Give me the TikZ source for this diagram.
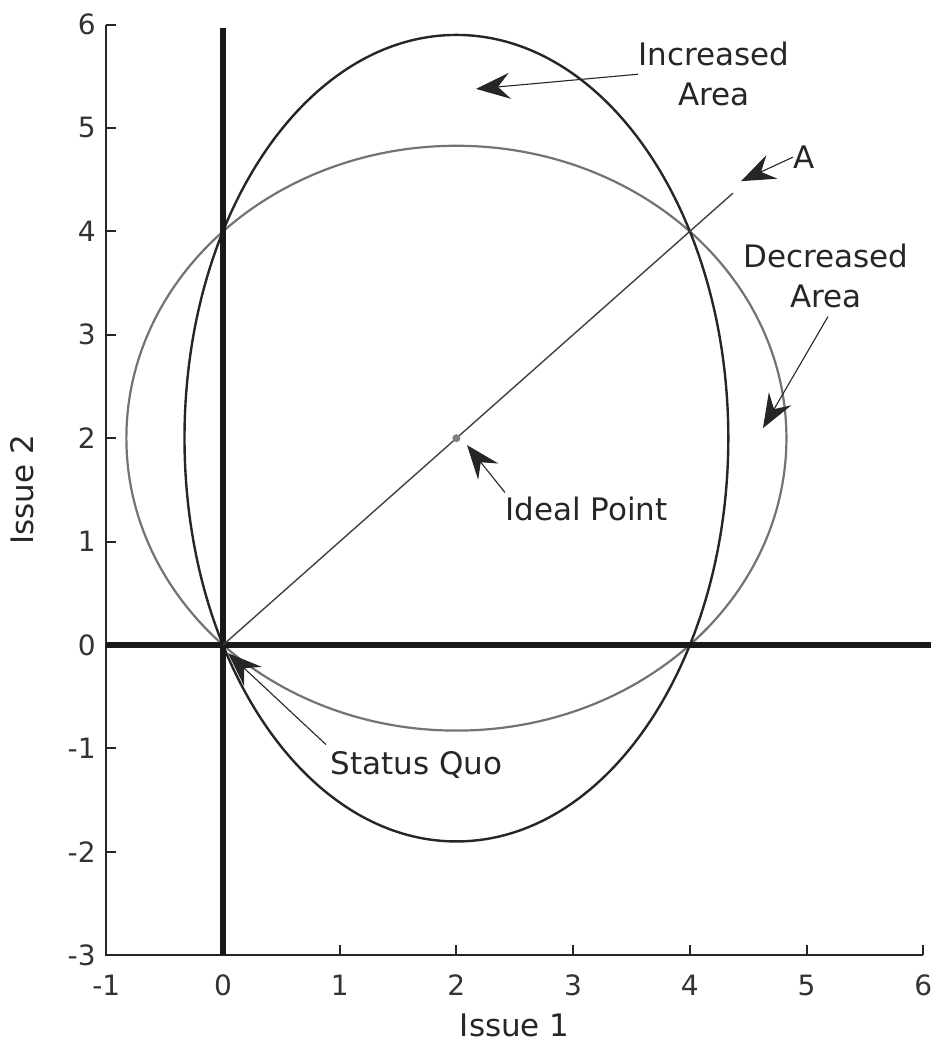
\documentclass[tikz,border=0pt]{standalone}
\usepackage{fontspec}
\setmainfont{DejaVu Sans}
\usetikzlibrary{arrows.meta}
\newcommand\annfont{\fontsize{15.5}{20}\selectfont}
\newcommand\tickfont{\fontsize{14}{16}\selectfont}
\begin{document}
\begin{tikzpicture}[x=58.35pt, y=51.7pt,
  axisline/.style={line width=1pt, black!85},
  thickaxis/.style={line width=2.8pt, black!90},
  blackcurve/.style={line width=1.2pt, black!85},
  graycurve/.style={line width=1.1pt, black!55},
  diagline/.style={line width=0.7pt, black!75},
  lbl/.style={font=\annfont, inner sep=0pt, text=black!85},
  ticklbl/.style={font=\tickfont, inner sep=0pt, text=black!80},
  arr/.style={line width=0.55pt, black!85, -{Stealth[length=17pt,width=13pt,inset=6pt]}}]
\useasboundingbox (-1.911,-3.859) rectangle (6.075,6.238);
% axes box (left and bottom)
\draw[axisline] (-1,6) -- (-1,-3) -- (6,-3);
\foreach \y in {-2,...,6} \draw[axisline] (-1,\y) -- ++(0.085,0);
\foreach \x in {0,...,6} \draw[axisline] (\x,-3) -- ++(0,0.1);
% tick labels
\foreach \y in {-3,...,6} \node[ticklbl, anchor=east] (yl\y) at (-1.088,\y) {\y};
\foreach \x in {-1,...,6} \node[ticklbl] (xl\x) at (\x,-3.29) {\x};
% axis labels
\node[lbl] (xlabel) at (2.5,-3.677) {Issue 1};
\node[lbl, rotate=90] (ylabel) at (-1.722,1.5) {Issue 2};
% curves
\draw[graycurve] (2,2) ellipse [x radius=2.828, y radius=2.828];
\draw[blackcurve] (2,2) ellipse [x radius=2.33, y radius=3.9];
% thick axes
\draw[thickaxis] (0,-3) -- (0,5.965);
\draw[thickaxis] (-1,0) -- (6.07,0);
% diagonal line
\coordinate (O) at (0,0);
\coordinate (Aend) at (4.37,4.37);
\draw[diagline] (O) -- (Aend);
\node[circle, fill=black!50, inner sep=0pt, minimum size=4pt] (ideal) at (2,2) {};
% annotations
\node[lbl, align=center] (inc) at (4.207,5.52) {Increased\\Area};
\coordinate (incTip) at (2.168,5.378);
\draw[arr] (inc.west) -- (incTip);
\node[lbl, anchor=west] (A) at (4.884,4.718) {A};
\coordinate (ATip) at (4.439,4.486);
\draw[arr] (A.west) -- (ATip);
\node[lbl, align=center] (dec) at (5.167,3.567) {Decreased\\Area};
\coordinate (decTip) at (4.627,2.097);
\draw[arr] ([shift={(1pt,-4pt)}]dec.south) -- (decTip);
\node[lbl, anchor=base west] (ipl) at (2.416,1.205) {Ideal Point};
\coordinate (ipTip) at (2.091,1.933);
\draw[arr] ([yshift=2pt]ipl.north west) -- (ipTip);
\node[lbl, anchor=base west] (sq) at (0.917,-1.248) {Status Quo};
\coordinate (sqTip) at (0.043,-0.079);
\draw[arr] ([shift={(-2pt,3pt)}]sq.north west) -- (sqTip);
\end{tikzpicture}
\end{document}
